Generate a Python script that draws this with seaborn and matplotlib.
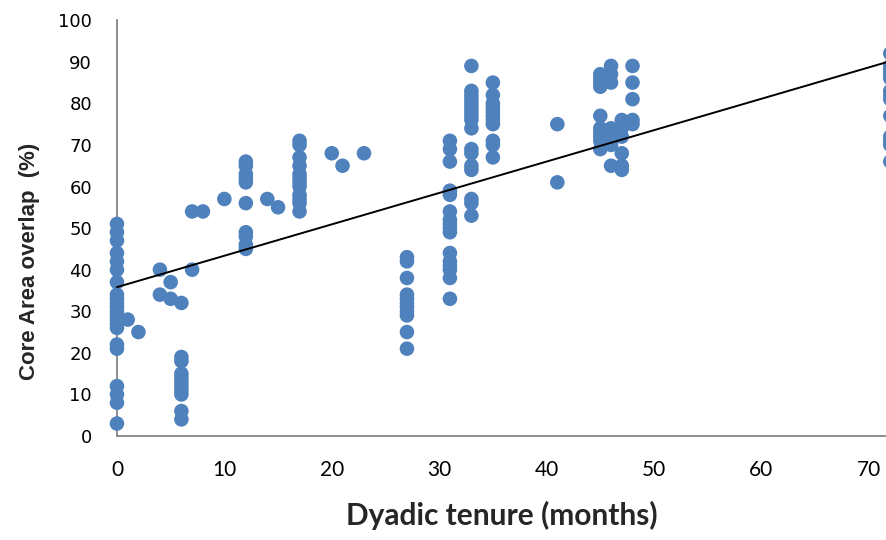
import matplotlib
matplotlib.use("Agg")
import matplotlib.pyplot as plt
import numpy as np
import pandas as pd
import seaborn as sns

# tenure (months) and the core area overlap values at each tenure
x0 = [0] * 22
y0 = [51, 49, 47, 44, 42, 40, 37, 34, 33, 32, 31, 30, 29, 28, 27, 26, 22, 21, 12, 10, 8, 3]
x_small = [1, 2, 4, 4, 5, 5, 6, 7, 7, 8, 10, 14, 15, 20, 21, 23, 41, 41]
y_small = [28, 25, 40, 34, 37, 33, 32, 40, 54, 54, 57, 57, 55, 68, 65, 68, 75, 61]
y6 = [19, 18, 15, 14, 13, 12, 11, 10, 6, 4]
y12 = [66, 65, 63, 62, 61, 56, 49, 48, 46, 45]
y17 = [71, 70, 67, 65, 63, 62, 61, 60, 58, 57, 56, 54]
y27 = [43, 42, 38, 34, 33, 32, 31, 30, 29, 25, 21]
y31 = [71, 69, 66, 59, 58, 54, 52, 51, 50, 49, 44, 42, 41, 40, 38, 33]
y33 = [89, 83, 82, 81, 80, 79, 78, 77, 76, 74, 69, 68, 65, 64, 57, 56, 53]
y35 = [85, 82, 80, 79, 78, 77, 76, 75, 71, 70, 67]
y45 = [87, 86, 85, 84, 77, 74, 73, 72, 71, 69]
y46 = [89, 87, 85, 74, 72, 70, 65]
y47 = [76, 74, 72, 68, 65, 64]
y48 = [89, 85, 81, 76, 75]
y72 = [92, 89, 88, 87, 86, 83, 82, 81, 77, 72, 71, 70, 66]

# linear trendline as shown on the chart
trend_intercept = 35.8
trend_slope = 0.755

columns = {6: y6, 12: y12, 17: y17, 27: y27, 31: y31, 33: y33, 35: y35,
           45: y45, 46: y46, 47: y47, 48: y48, 72: y72}

xs = list(x0) + list(x_small)
ys = list(y0) + list(y_small)
for k, v in columns.items():
    xs += [k] * len(v)
    ys += v
df = pd.DataFrame({"tenure": xs, "overlap": ys})

sns.set_style("white")
plt.rcParams["font.family"] = ["Lato", "DejaVu Sans"]

fig = plt.figure(figsize=(8.86, 5.4), dpi=100)
ax = fig.add_axes([0.132, 0.1926, 0.868, 0.770])

sns.scatterplot(data=df, x="tenure", y="overlap", ax=ax, color="#4F81BD",
                s=110, edgecolor="none", clip_on=False, zorder=3)

xl = np.array([0, 72])
ax.plot(xl, trend_intercept + trend_slope * xl, color="black", lw=1.4,
        zorder=4, clip_on=False)

ax.set_xlim(0, 71.6)
ax.set_ylim(0, 100)
ax.set_xticks(range(0, 80, 10))
ax.set_yticks(range(0, 110, 10))

for side in ["top", "right"]:
    ax.spines[side].set_visible(False)
for side in ["left", "bottom"]:
    ax.spines[side].set_color("#868686")
    ax.spines[side].set_linewidth(1.3)
ax.tick_params(axis="both", direction="out", length=7, width=1.2, color="#868686",
               labelcolor="black")
ax.tick_params(axis="x", pad=10, labelsize=15)
ax.tick_params(axis="y", pad=11, labelsize=13)
for lab in ax.get_yticklabels():
    lab.set_fontfamily("DejaVu Sans")

ax.set_xlabel("Dyadic tenure (months)", fontsize=21.5, fontweight="bold", labelpad=15)
ax.set_ylabel("Core Area overlap  (%)", fontsize=16, fontweight="bold",
              fontfamily="Liberation Sans")
ax.yaxis.set_label_coords(-0.100, 0.42)

fig.savefig("out.png", dpi=100)
